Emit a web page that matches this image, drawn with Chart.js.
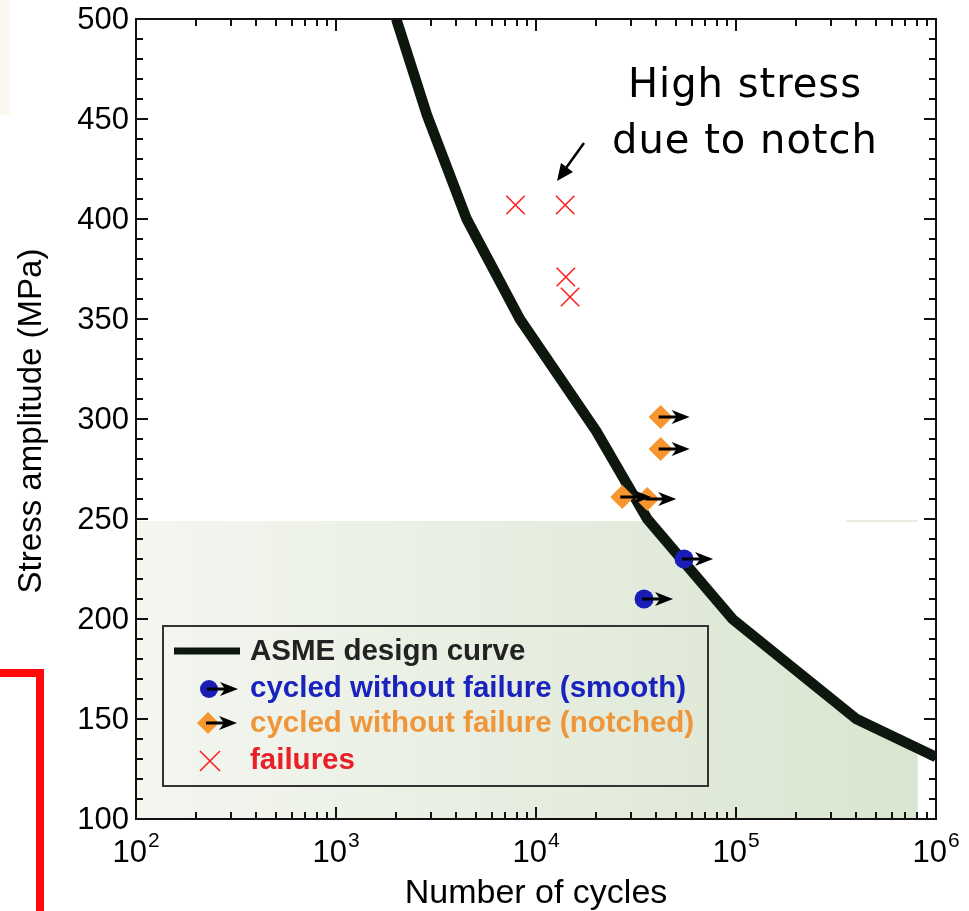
<!DOCTYPE html>
<html>
<head>
<meta charset="utf-8">
<script src="https://cdn.jsdelivr.net/npm/chart.js@4/dist/chart.umd.min.js"></script>
<style>
  html, body { margin: 0; padding: 0; background: #fff; }
  #wrap { position: relative; width: 969px; height: 911px; }
  canvas { display: block; }
</style>
</head>
<body>
<div id="wrap"><canvas id="c" width="969" height="911"></canvas></div>
<script>
// ASME design curve (cycles, stress amplitude in MPa)
const curveCycles = [2000, 2850, 4500, 8300, 20000, 36000, 96000, 400000, 1000000];
const curveStress = [500, 452, 400, 350, 294, 250, 200, 150, 131];

// run-outs, smooth specimens
const smoothCycles = [55000, 34700];
const smoothStress = [230, 210];

// run-outs, notched specimens
const notchedCycles = [42000, 42000, 27000, 36000];
const notchedStress = [301, 285, 261, 260];

// failed specimens
const failCycles = [7900, 14000, 14100, 14800];
const failStress = [407, 407, 371, 361];

// shaded design region below the curve
const regionMaxCycles = 810000;
const regionMaxStress = 249;

// axis ticks
const xTickExponents = [2, 3, 4, 5, 6];
const yTickLabels = [100, 150, 200, 250, 300, 350, 400, 450, 500];

const labels = {
  curve: 'ASME design curve',
  smooth: 'cycled without failure (smooth)',
  notched: 'cycled without failure (notched)',
  fail: 'failures'
};

const colors = {
  curve: '#0e170e',
  smooth: '#1a1db5',
  notched: '#f7952f',
  fail: '#ff1f1f',
  smoothText: '#1a23be',
  notchedText: '#f0963a',
  failText: '#e82027',
  curveText: '#222222'
};

const pts = (xs, ys) => xs.map((x, i) => ({ x: x, y: ys[i] }));

const SANS = '"Liberation Sans", Arial, Helvetica, sans-serif';

function drawRunoutArrow(ctx, x, y) {
  ctx.save();
  ctx.strokeStyle = '#000';
  ctx.fillStyle = '#000';
  ctx.lineWidth = 3;
  ctx.beginPath();
  ctx.moveTo(x - 2, y);
  ctx.lineTo(x + 20, y);
  ctx.stroke();
  ctx.beginPath();
  ctx.moveTo(x + 29, y);
  ctx.lineTo(x + 11, y - 7);
  ctx.lineTo(x + 16, y);
  ctx.lineTo(x + 11, y + 7);
  ctx.closePath();
  ctx.fill();
  ctx.restore();
}

const decorPlugin = {
  id: 'decor',
  beforeDraw(chart) {
    const ctx = chart.ctx;
    ctx.save();
    ctx.fillStyle = '#ffffff';
    ctx.fillRect(0, 0, chart.width, chart.height);
    // faint strip at the top-left edge
    ctx.fillStyle = '#fbf8ef';
    ctx.fillRect(0, 0, 10, 115);
    // red bracket at the lower left
    ctx.strokeStyle = '#ff0a0a';
    ctx.lineWidth = 8;
    ctx.lineCap = 'butt';
    ctx.lineJoin = 'miter';
    ctx.beginPath();
    ctx.moveTo(0, 673);
    ctx.lineTo(40, 673);
    ctx.lineTo(40, 915);
    ctx.stroke();
    ctx.restore();
  },
  beforeDatasetsDraw(chart) {
    const ctx = chart.ctx;
    const xs = chart.scales.x, ys = chart.scales.y;
    const a = chart.chartArea;
    const xr = xs.getPixelForValue(regionMaxCycles);
    const yt = ys.getPixelForValue(regionMaxStress);
    ctx.save();
    ctx.beginPath();
    ctx.rect(a.left, yt, xr - a.left, a.bottom - yt);
    ctx.clip();
    const g = ctx.createLinearGradient(a.left, 0, xr, 0);
    g.addColorStop(0, '#f4f6f0');
    g.addColorStop(1, '#d9e5d0');
    ctx.fillStyle = g;
    ctx.beginPath();
    ctx.moveTo(a.left, ys.getPixelForValue(curveStress[0]));
    curveCycles.forEach((c, i) => ctx.lineTo(xs.getPixelForValue(c), ys.getPixelForValue(curveStress[i])));
    ctx.lineTo(xs.getPixelForValue(curveCycles[curveCycles.length - 1]), a.bottom);
    ctx.lineTo(a.left, a.bottom);
    ctx.closePath();
    ctx.fill();
    ctx.restore();
    // faint top edge of the shaded block right of the curve
    ctx.save();
    ctx.strokeStyle = 'rgba(215,224,204,0.85)';
    ctx.lineWidth = 1.5;
    ctx.beginPath();
    ctx.moveTo(xs.getPixelForValue(355000), yt);
    ctx.lineTo(xr, yt);
    ctx.stroke();
    ctx.restore();
  },
  afterDatasetsDraw(chart) {
    const ctx = chart.ctx;
    const xs = chart.scales.x, ys = chart.scales.y;
    const a = chart.chartArea;

    // run-out arrows
    smoothCycles.forEach((c, i) => drawRunoutArrow(ctx, xs.getPixelForValue(c), ys.getPixelForValue(smoothStress[i])));
    notchedCycles.forEach((c, i) => drawRunoutArrow(ctx, xs.getPixelForValue(c), ys.getPixelForValue(notchedStress[i])));

    // frame
    ctx.save();
    ctx.strokeStyle = '#111';
    ctx.lineWidth = 2;
    ctx.strokeRect(a.left, a.top, a.right - a.left, a.bottom - a.top);

    // y ticks, inward on both sides
    ctx.lineWidth = 2;
    ctx.beginPath();
    for (let v = 100; v <= 500; v += 10) {
      const y = Math.round(ys.getPixelForValue(v));
      const len = v % 50 === 0 ? 12 : 7;
      ctx.moveTo(a.left, y); ctx.lineTo(a.left + len, y);
      ctx.moveTo(a.right, y); ctx.lineTo(a.right - len, y);
    }
    // x ticks, inward on bottom and top
    for (let e = 2; e <= 5; e++) {
      for (let m = 1; m <= 10; m++) {
        const v = m * Math.pow(10, e);
        const x = Math.round(xs.getPixelForValue(v));
        const len = (m === 1 || m === 10) ? 12 : 7;
        ctx.moveTo(x, a.bottom); ctx.lineTo(x, a.bottom - len);
        ctx.moveTo(x, a.top); ctx.lineTo(x, a.top + len);
      }
    }
    ctx.stroke();

    // y tick labels
    ctx.fillStyle = '#000';
    ctx.font = '31px ' + SANS;
    ctx.textAlign = 'right';
    ctx.textBaseline = 'middle';
    yTickLabels.forEach(v => ctx.fillText(String(v), a.left - 7, ys.getPixelForValue(v) + 1));

    // x tick labels: 10 with superscript exponent
    ctx.textBaseline = 'alphabetic';
    ctx.textAlign = 'left';
    xTickExponents.forEach(e => {
      const x = xs.getPixelForValue(Math.pow(10, e));
      ctx.font = '31px ' + SANS;
      const wb = ctx.measureText('10').width;
      ctx.font = '21px ' + SANS;
      const we = ctx.measureText(String(e)).width;
      const start = x - (wb + we + 1) / 2;
      ctx.font = '31px ' + SANS;
      ctx.fillText('10', start, 862);
      ctx.font = '21px ' + SANS;
      ctx.fillText(String(e), start + wb + 1, 847);
    });

    // axis titles
    ctx.font = '34px ' + SANS;
    ctx.textAlign = 'center';
    ctx.textBaseline = 'alphabetic';
    ctx.fillText('Number of cycles', (a.left + a.right) / 2, 903);
    ctx.save();
    ctx.translate(32, (a.top + a.bottom) / 2 + 2);
    ctx.rotate(-Math.PI / 2);
    ctx.textBaseline = 'middle';
    ctx.font = '33px ' + SANS;
    ctx.fillText('Stress amplitude (MPa)', 0, 0);
    ctx.restore();

    // legend
    ctx.strokeStyle = '#333';
    ctx.lineWidth = 2;
    ctx.strokeRect(163, 626, 545, 160);
    ctx.font = 'bold 29.5px ' + SANS;
    ctx.textAlign = 'left';
    ctx.textBaseline = 'middle';
    const tx = 250;
    // curve entry
    ctx.strokeStyle = colors.curve;
    ctx.lineWidth = 7;
    ctx.beginPath(); ctx.moveTo(174, 651); ctx.lineTo(240, 651); ctx.stroke();
    ctx.fillStyle = colors.curveText;
    ctx.fillText(labels.curve, tx, 652);
    // smooth entry
    ctx.fillStyle = colors.smooth;
    ctx.beginPath(); ctx.arc(209, 689, 9, 0, Math.PI * 2); ctx.fill();
    drawRunoutArrow(ctx, 209, 689);
    ctx.fillStyle = colors.smoothText;
    ctx.fillText(labels.smooth, tx, 689);
    // notched entry
    ctx.fillStyle = colors.notched;
    ctx.beginPath();
    ctx.moveTo(208, 712); ctx.lineTo(219, 723); ctx.lineTo(208, 734); ctx.lineTo(197, 723);
    ctx.closePath(); ctx.fill();
    drawRunoutArrow(ctx, 208, 723);
    ctx.fillStyle = colors.notchedText;
    ctx.fillText(labels.notched, tx, 724);
    // failure entry
    ctx.strokeStyle = colors.fail;
    ctx.lineWidth = 1.6;
    ctx.beginPath();
    ctx.moveTo(200, 751); ctx.lineTo(220, 771);
    ctx.moveTo(220, 751); ctx.lineTo(200, 771);
    ctx.stroke();
    ctx.fillStyle = colors.failText;
    ctx.fillText(labels.fail, tx, 761);

    // annotation
    ctx.fillStyle = '#000';
    ctx.font = '40px "DejaVu Sans", sans-serif';
    ctx.letterSpacing = '1px';
    ctx.textAlign = 'center';
    ctx.textBaseline = 'alphabetic';
    ctx.fillText('High stress', 745, 97);
    ctx.fillText('due to notch', 745, 153);
    ctx.letterSpacing = '0px';
    ctx.strokeStyle = '#000';
    ctx.lineWidth = 2.5;
    ctx.beginPath(); ctx.moveTo(584, 143); ctx.lineTo(566, 168); ctx.stroke();
    ctx.beginPath();
    ctx.moveTo(557, 181);
    ctx.lineTo(561, 163);
    ctx.lineTo(573, 172);
    ctx.closePath();
    ctx.fill();
    ctx.restore();
  }
};

new Chart(document.getElementById('c'), {
  type: 'scatter',
  data: {
    datasets: [
      {
        label: labels.fail,
        data: pts(failCycles, failStress),
        pointStyle: 'crossRot',
        pointRadius: 13,
        borderColor: colors.fail,
        borderWidth: 1.6,
        order: 1
      },
      {
        label: labels.smooth,
        data: pts(smoothCycles, smoothStress),
        pointStyle: 'circle',
        pointRadius: 9.5,
        backgroundColor: colors.smooth,
        borderWidth: 0,
        order: 2
      },
      {
        label: labels.notched,
        data: pts(notchedCycles, notchedStress),
        pointStyle: 'rectRot',
        pointRadius: 12,
        backgroundColor: colors.notched,
        borderWidth: 0,
        order: 3
      },
      {
        label: labels.curve,
        type: 'line',
        data: pts(curveCycles, curveStress),
        borderColor: colors.curve,
        borderWidth: 10.5,
        pointRadius: 0,
        tension: 0,
        fill: false,
        order: 5
      }
    ]
  },
  options: {
    responsive: false,
    animation: false,
    devicePixelRatio: 1,
    events: [],
    layout: { padding: { left: 136, top: 19, right: 33, bottom: 92 } },
    scales: {
      x: { type: 'logarithmic', min: 100, max: 1000000, display: false },
      y: { type: 'linear', min: 100, max: 500, display: false }
    },
    plugins: {
      legend: { display: false },
      tooltip: { enabled: false }
    }
  },
  plugins: [decorPlugin]
});
</script>
</body>
</html>
